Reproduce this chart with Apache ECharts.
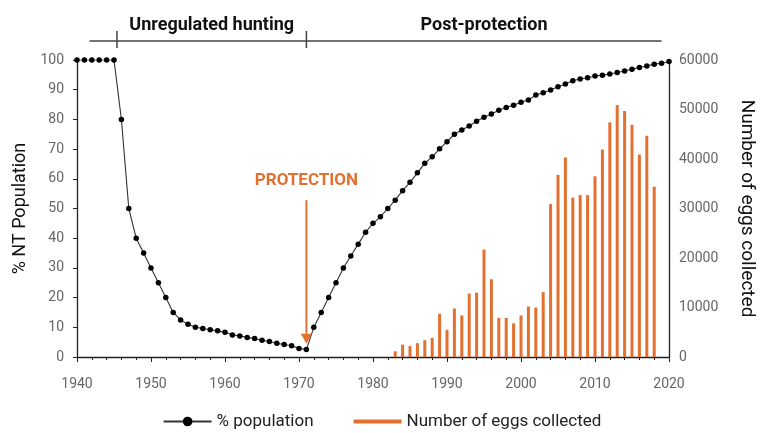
<!DOCTYPE html>
<html>
<head>
<meta charset="utf-8">
<script src="https://cdn.jsdelivr.net/npm/echarts@6/dist/echarts.min.js"></script>
<style>
  html, body { margin: 0; padding: 0; background: #fff; }
  #chart { width: 764px; height: 433px; }
</style>
</head>
<body>
<div id="chart"></div>
<script>
// % of NT population, one value per year from 1940
const popStartYear = 1940
const popValues = [
  100, 100, 100, 100, 100, 100, 80, 50, 40, 35,
  30, 25, 20, 15, 12.5, 11, 10, 9.6, 9.2, 8.8,
  8.3, 7.4, 7.1, 6.6, 6.2, 5.6, 5.2, 4.6, 4.2, 3.8,
  2.9, 2.5, 10, 15, 20, 25, 30, 34, 38, 42,
  45, 47.2, 50, 52.8, 56, 58.8, 62, 65.2, 67.4, 70.1,
  72.5, 75, 76.4, 77.8, 79.4, 80.7, 81.8, 83.1, 84, 84.8,
  85.8, 86.5, 88.2, 89, 89.9, 91, 91.9, 93, 93.6, 94,
  94.6, 94.9, 95.3, 95.8, 96.3, 96.9, 97.5, 98, 98.6, 98.9,
  99.5
]

// eggs collected, one value per year from 1983
const eggStartYear = 1983
const eggValues = [
  1150, 2500, 2200, 2800, 3400, 3850, 8700, 5500, 9800, 8400,
  12800, 13000, 21700, 15700, 7900, 7900, 6800, 8400, 10200, 10000,
  13100, 30900, 36800, 40300, 32200, 32700, 32700, 36500, 41900, 47400,
  50900, 49700, 46900, 40900, 44700, 34400
]

const protectionYear = 1971
const periods = [
  { name: 'Unregulated hunting', from: 1945.4, to: 1971 },
  { name: 'Post-protection', from: 1971, to: 2019 }
]
const bracketStart = 1941.7

const font = 'Roboto, sans-serif'
const orange = '#E4702F'

const popData = popValues.map((v, i) => [popStartYear + i, v])
const eggData = eggValues.map((v, i) => [eggStartYear + i, v])

const chart = echarts.init(document.getElementById('chart'))

const option = {
  animation: false,
  textStyle: { fontFamily: font },
  grid: { left: 77, right: 91, top: 60, bottom: 76 },
  legend: {
    bottom: -2,
    left: 'center',
    itemWidth: 48,
    itemHeight: 12,
    itemGap: 40,
    textStyle: { fontFamily: font, fontSize: 17, color: '#222' },
    data: [
      { name: '% population' },
      { name: 'Number of eggs collected', icon: 'path://M0,0 H50 V4 H0 Z' }
    ]
  },
  xAxis: {
    type: 'value',
    min: 1940,
    max: 2020,
    interval: 10,
    splitLine: { show: false },
    axisLine: { lineStyle: { color: '#222', width: 1.3 } },
    axisTick: { length: 5, lineStyle: { color: '#222' } },
    minorTick: { show: true, splitNumber: 5, length: 3, lineStyle: { color: '#222' } },
    axisLabel: { margin: 20, fontSize: 14, color: '#666', fontFamily: font, formatter: v => String(v) }
  },
  yAxis: [
    {
      type: 'value',
      min: 0,
      max: 100,
      interval: 10,
      name: '% NT Population',
      nameLocation: 'middle',
      nameGap: 48,
      nameRotate: 90,
      nameTextStyle: { fontSize: 18, color: '#111', fontFamily: font },
      splitLine: { show: false },
      axisLine: { show: true, lineStyle: { color: '#222', width: 1.3 } },
      axisTick: { show: true, length: 4, lineStyle: { color: '#222' } },
      axisLabel: { margin: 13, fontSize: 14, color: '#666', fontFamily: font }
    },
    {
      type: 'value',
      min: 0,
      max: 60000,
      interval: 10000,
      name: 'Number of eggs collected',
      nameLocation: 'middle',
      nameGap: 68,
      nameRotate: -90,
      nameTextStyle: { fontSize: 19, color: '#111', fontFamily: font },
      splitLine: { show: false },
      axisLine: { show: true, lineStyle: { color: '#222', width: 1.3 } },
      axisTick: { show: false },
      axisLabel: { margin: 10, fontSize: 14, color: '#666', fontFamily: font, formatter: v => String(v) }
    }
  ],
  series: [
    {
      name: 'Number of eggs collected',
      type: 'bar',
      yAxisIndex: 1,
      barWidth: 3,
      itemStyle: { color: orange },
      data: eggData
    },
    {
      name: '% population',
      type: 'line',
      yAxisIndex: 0,
      symbol: 'circle',
      symbolSize: 5.5,
      itemStyle: { color: '#000' },
      lineStyle: { color: '#333', width: 1.1 },
      data: popData,
      z: 5,
      markPoint: {
        silent: true,
        symbol: 'rect',
        symbolSize: 0,
        label: {
          show: true,
          formatter: 'PROTECTION',
          color: orange,
          fontFamily: font,
          fontWeight: 'bold',
          fontSize: 17
        },
        data: [{ coord: [protectionYear, 59.3] }]
      }
    }
  ]
}

chart.setOption(option)

// bracket above the plot with the period names, and the protection arrow
const lineY = 41
const px = y => chart.convertToPixel({ xAxisIndex: 0 }, y)
const py = v => chart.convertToPixel({ yAxisIndex: 0 }, v)
const graphics = [
  {
    type: 'line',
    shape: { x1: px(bracketStart), y1: lineY, x2: px(periods[1].to), y2: lineY },
    style: { stroke: '#444', lineWidth: 1.5 }
  }
]
periods.forEach(p => {
  graphics.push({
    type: 'line',
    shape: { x1: px(p.from), y1: lineY - 10, x2: px(p.from), y2: lineY + 7 },
    style: { stroke: '#444', lineWidth: 1.5 }
  })
  graphics.push({
    type: 'text',
    x: (px(p.from) + px(p.to)) / 2,
    y: 25,
    style: {
      text: p.name,
      fill: '#111',
      font: 'bold 18px ' + font,
      textAlign: 'center',
      textVerticalAlign: 'middle'
    }
  })
})
const ax = px(protectionYear)
const arrowTop = py(52.8)
const headTop = py(7.8)
const tip = py(4.5)
graphics.push({
  type: 'line',
  z: 10,
  shape: { x1: ax, y1: arrowTop, x2: ax, y2: headTop },
  style: { stroke: orange, lineWidth: 2 }
})
graphics.push({
  type: 'polygon',
  z: 10,
  shape: { points: [[ax - 5.5, headTop], [ax + 5.5, headTop], [ax, tip]] },
  style: { fill: orange }
})
chart.setOption({ graphic: graphics })
</script>
</body>
</html>
